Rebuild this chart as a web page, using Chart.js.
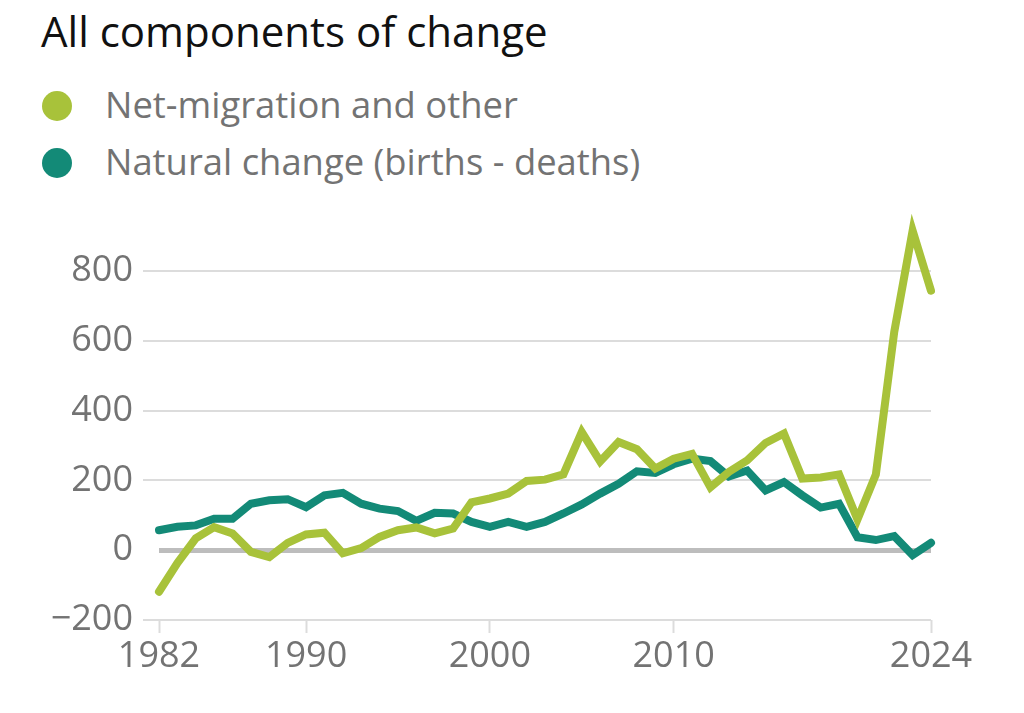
<!DOCTYPE html>
<html>
<head>
<meta charset="utf-8">
<script src="https://cdn.jsdelivr.net/npm/chart.js@4"></script>
<style>
  body { margin: 0; background: #fff; font-family: "Open Sans", sans-serif; }
  #wrap { position: relative; width: 1024px; height: 713px; overflow: hidden; }
  h1 { position: absolute; left: 41px; top: 2px; margin: 0; font-weight: 400; font-size: 42px; color: #111; }
  .leg { position: absolute; left: 42px; font-size: 36.4px; color: #737373; line-height: 44px; }
  .leg span { display: inline-block; width: 30px; height: 30px; border-radius: 50%; vertical-align: -3px; margin-right: 33px; }
  #box { position: absolute; left: 0; top: 161px; width: 1024px; height: 539px; }
</style>
</head>
<body>
<div id="wrap">
  <h1>All components of change</h1>
  <div class="leg" style="top:82px"><span style="background:#a8c23a"></span>Net-migration and other</div>
  <div class="leg" style="top:139px"><span style="background:#138a77"></span>Natural change (births - deaths)</div>
  <div id="box"><canvas id="chart"></canvas></div>
</div>
<script>
// Data

const years = [];
for (let y = 1982; y <= 2024; y++) years.push(y);

const netMigration = [-119, -37, 34, 66, 48, -5, -20, 21, 45, 50,
    -9, 6, 38, 57, 65, 48, 62, 137, 148, 162,
    198, 202, 217, 338, 254, 310, 289, 234, 262, 276,
    180, 224, 257, 307, 334, 205, 208, 217, 88, 217,
    625, 915, 743];

const naturalChange = [57, 67, 71, 90, 90, 133, 143, 146, 123, 157,
    164, 133, 119, 112, 84, 107, 105, 81, 67, 81,
    67, 81, 105, 131, 162, 190, 226, 221, 246, 262,
    255, 211, 228, 171, 195, 157, 122, 133, 37, 29,
    40, -14, 21];

const yearTicks = [1982, 1990, 2000, 2010, 2024];
const valueTicks = [-200, 0, 200, 400, 600, 800];

// Chart

const tickFont = { family: 'Open Sans', size: 36 };

const ctx = document.getElementById('chart');

let chart = new Chart(ctx, {
    type: 'line',
    data: {
        datasets: [{
            label: 'Net-migration and other',
            data: years.map((y, i) => ({ x: y, y: netMigration[i] })),
            borderColor: '#a8c23a',
            borderWidth: 8,
            pointRadius: 0,
            clip: false,
            borderJoinStyle: 'miter',
            borderCapStyle: 'round'
        }, {
            label: 'Natural change (births - deaths)',
            data: years.map((y, i) => ({ x: y, y: naturalChange[i] })),
            borderColor: '#138a77',
            borderWidth: 8,
            pointRadius: 0,
            clip: false,
            borderJoinStyle: 'miter',
            borderCapStyle: 'round'
        }]
    },
    options: {
        responsive: true,
        maintainAspectRatio: false,
        animation: false,
        layout: { padding: { top: 40, right: 93, left: 0, bottom: 0 } },
        plugins: { legend: { display: false }, tooltip: { enabled: false } },
        scales: {
            x: {
                type: 'linear',
                min: 1982,
                max: 2024,
                afterBuildTicks: s => { s.ticks = yearTicks.map(v => ({ value: v })); },
                afterFit: s => { s.height = 80; },
                ticks: {
                    font: tickFont,
                    color: '#737373',
                    padding: 2,
                    maxRotation: 0,
                    callback: v => String(v)
                },
                grid: {
                    drawOnChartArea: false,
                    tickLength: 13,
                    tickWidth: 2,
                    tickColor: '#dcdcdc'
                },
                border: { display: false }
            },
            y: {
                min: -200,
                max: 1000,
                afterBuildTicks: s => { s.ticks = valueTicks.map(v => ({ value: v })); },
                afterFit: s => { s.width = 159; },
                ticks: {
                    font: tickFont,
                    color: '#737373',
                    padding: 10,
                    callback: v => v < 0 ? '\u2212' + Math.abs(v) : String(v)
                },
                grid: {
                    tickLength: 16,
                    color: c => c.tick && c.tick.value === 0 ? '#bdbdbd' : '#dcdcdc',
                    lineWidth: c => c.tick && c.tick.value === 0 ? 5 : 2,
                    tickColor: c => c.tick && c.tick.value === 0 ? 'rgba(0,0,0,0)' : '#dcdcdc'
                },
                border: { display: false }
            }
        }
    }
});
</script>
</body>
</html>
